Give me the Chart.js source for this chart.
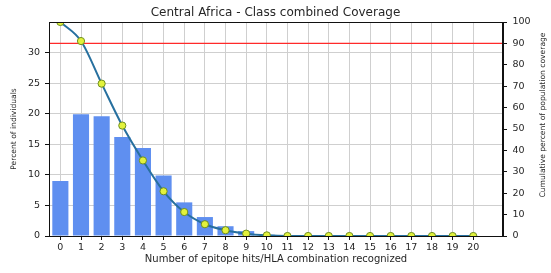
<!DOCTYPE html>
<html>
<head>
<meta charset="utf-8">
<script src="https://cdn.jsdelivr.net/npm/chart.js@4/dist/chart.umd.min.js"></script>
<style>
html,body{margin:0;padding:0;background:#fff;}
#wrap{width:551px;height:273px;}
</style>
</head>
<body>
<div id="wrap"><canvas id="c" width="551" height="273"></canvas></div>
<script>
const chartTitle = "Central Africa - Class combined Coverage";
const xAxisTitle = "Number of epitope hits/HLA combination recognized";
const leftAxisTitle = "Percent of individuals";
const rightAxisTitle = "Cumulative percent of population coverage";

const categories = [0,1,2,3,4,5,6,7,8,9,10,11,12,13,14,15,16,17,18,19,20];
const percentIndividuals = [9.0,19.9,19.6,16.2,14.4,9.9,5.5,3.1,1.6,0.8,0.2,0,0,0,0,0,0,0,0,0,0];
const cumulativeCoverage = [100,91.1,71.2,51.6,35.3,20.9,11.2,5.5,2.7,1.1,0.3,0,0,0,0,0,0,0,0,0,0];
const thresholdCoverage = [90];

const xTicks = [0,1,2,3,4,5,6,7,8,9,10,11,12,13,14,15,16,17,18,19,20];
const leftTicks = [0,5,10,15,20,25,30];
const rightTicks = [0,10,20,30,40,50,60,70,80,90,100];
const xLimits = [-0.55, 21.44];
const leftLimits = [0, 35];
const rightLimits = [0, 100];

const FONT = "'DejaVu Sans', sans-serif";
const TXT = '#262626';

const framePlugin = {
  id: 'frame',
  afterDraw(chart) {
    const {ctx, chartArea: a} = chart;
    ctx.save();
    ctx.strokeStyle = '#111';
    ctx.lineWidth = 1;
    ctx.strokeRect(Math.round(a.left) + 0.5, Math.round(a.top) + 0.5,
                   Math.round(a.right - a.left) - 1, Math.round(a.bottom - a.top));
    // right axis title (reads bottom-to-top)
    ctx.fillStyle = TXT;
    ctx.font = "7.6px " + FONT;
    ctx.textAlign = 'center';
    ctx.textBaseline = 'middle';
    ctx.translate(543, 115);
    ctx.rotate(-Math.PI / 2);
    ctx.fillText(rightAxisTitle, 0, 0);
    ctx.restore();
  }
};

new Chart(document.getElementById('c'), {
  data: {
    datasets: [
      {
        type: 'line',
        label: 'Cumulative',
        data: categories.map((c, i) => ({x: c, y: cumulativeCoverage[i]})),
        yAxisID: 'y2',
        borderColor: '#27709f',
        borderWidth: 2,
        cubicInterpolationMode: 'monotone',
        pointRadius: 3.6,
        pointBackgroundColor: '#e2f23c',
        pointBorderColor: '#6f8f20',
        pointBorderWidth: 1,
        order: 0
      },
      {
        type: 'line',
        label: 'Threshold',
        data: [{x: xLimits[0], y: thresholdCoverage[0]}, {x: xLimits[1], y: thresholdCoverage[0]}],
        yAxisID: 'y2',
        borderColor: '#ff2a2a',
        borderWidth: 1.3,
        pointRadius: 0,
        order: 1
      },
      {
        type: 'bar',
        label: 'Percent',
        data: categories.map((c, i) => ({x: c, y: percentIndividuals[i]})),
        yAxisID: 'y',
        backgroundColor: '#5f8ff0',
        borderWidth: 0,
        barPercentage: 0.78,
        categoryPercentage: 1.0,
        order: 2
      }
    ]
  },
  options: {
    responsive: false,
    animation: false,
    devicePixelRatio: 1,
    layout: {padding: 0},
    plugins: {
      legend: {display: false},
      tooltip: {enabled: false},
      title: {
        display: true,
        text: chartTitle,
        color: TXT,
        font: {family: FONT, size: 12, weight: 'normal', lineHeight: 1.2},
        padding: {top: 5.5, bottom: 2.1}
      }
    },
    scales: {
      x: {
        type: 'linear',
        position: 'bottom',
        offset: false,
        min: xLimits[0],
        max: xLimits[1],
        afterBuildTicks: s => { s.ticks = xTicks.map(v => ({value: v})); },
        afterFit: s => { s.height = 37; },
        ticks: {
          color: TXT,
          font: {family: FONT, size: 9.5},
          padding: 1.5,
          maxRotation: 0,
          autoSkip: false,
          callback: v => String(v)
        },
        grid: {offset: false, color: '#cfcfcf', lineWidth: 1, tickLength: 4, tickColor: '#111'},
        border: {display: true, color: '#111', width: 1},
        title: {
          display: true,
          text: xAxisTitle,
          color: TXT,
          font: {family: FONT, size: 10},
          padding: {top: 0, bottom: 7.5}
        }
      },
      y: {
        type: 'linear',
        position: 'left',
        min: leftLimits[0],
        max: leftLimits[1],
        afterBuildTicks: s => { s.ticks = leftTicks.map(v => ({value: v})); },
        afterFit: s => { s.width = 49; },
        ticks: {color: TXT, font: {family: FONT, size: 9.5}, padding: 5},
        grid: {color: '#cfcfcf', lineWidth: 1, tickLength: 4, tickColor: '#111'},
        border: {display: true, color: '#111', width: 1},
        title: {
          display: true,
          text: leftAxisTitle,
          color: TXT,
          font: {family: FONT, size: 7.6},
          padding: {top: 9.5, bottom: 0}
        }
      },
      y2: {
        type: 'linear',
        position: 'right',
        min: rightLimits[0],
        max: rightLimits[1],
        afterBuildTicks: s => { s.ticks = rightTicks.map(v => ({value: v})); },
        afterFit: s => { s.width = 48; },
        ticks: {color: TXT, font: {family: FONT, size: 9.5}, padding: 5.5},
        grid: {drawOnChartArea: false, tickLength: 4, tickColor: '#111', color: '#111'},
        border: {display: true, color: '#111', width: 1}
      }
    }
  },
  plugins: [framePlugin]
});
</script>
</body>
</html>
